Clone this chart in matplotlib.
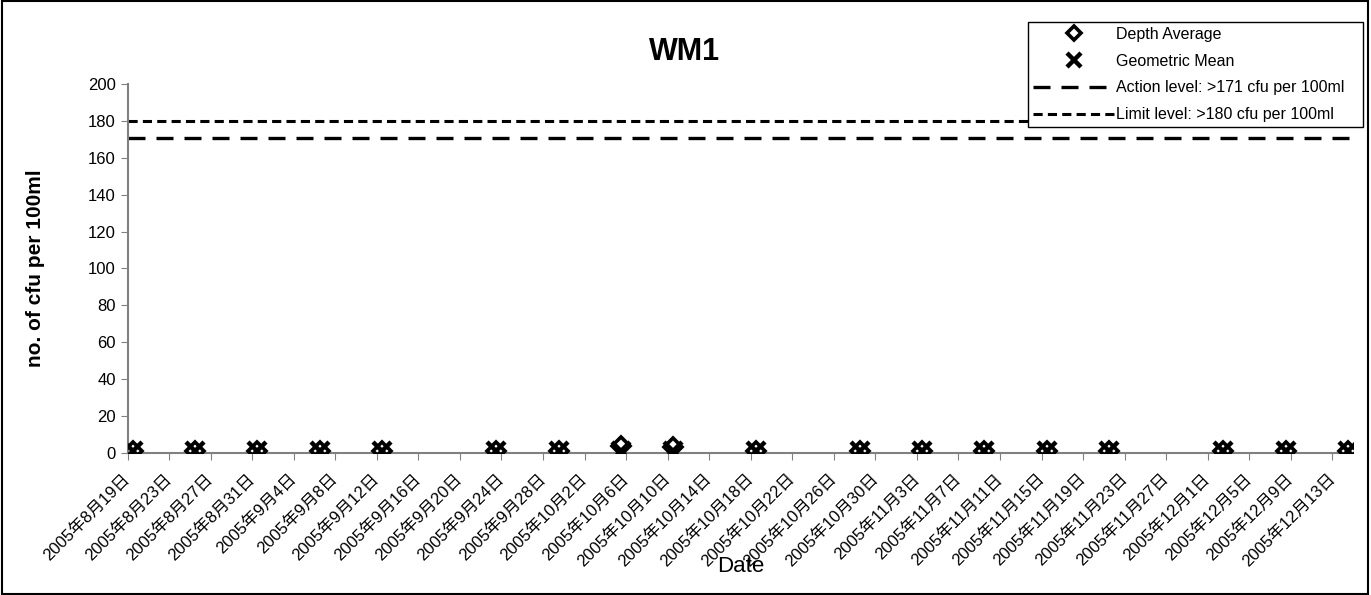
import datetime as dt
import matplotlib
matplotlib.use("Agg")
import matplotlib.pyplot as plt
from matplotlib.patches import Rectangle

plt.rcParams['font.family'] = ['Liberation Sans', 'Noto Sans CJK JP', 'DejaVu Sans']

# sampling dates (2005) and values
dates = ['08-19', '08-25', '08-31', '09-06', '09-12', '09-23', '09-29', '10-05', '10-10',
         '10-18', '10-28', '11-03', '11-09', '11-15', '11-21', '12-02', '12-08', '12-14']
depth_avg = [1, 1, 1, 1, 1, 1, 1, 4, 3, 1, 1, 1, 1, 1, 1, 1, 1, 1]
geo_mean = [1, 1, 1, 1, 1, 1, 1, 1, 1, 1, 1, 1, 1, 1, 1, 1, 1, 1]
action_level = 171
limit_level = 180
title = 'WM1'

# Excel "between dates" placement: points sit at mid-day
x = [dt.datetime.strptime('2005-' + d, '%Y-%m-%d') + dt.timedelta(hours=12) for d in dates]
start = dt.datetime(2005, 8, 19)
end = dt.datetime(2005, 12, 15)
ticks = [start + dt.timedelta(days=4 * i) for i in range(30)]
tick_labels = ['%d年%d月%d日' % (t.year, t.month, t.day) for t in ticks]

fig = plt.figure(figsize=(13.71, 5.95), dpi=100)
ax = fig.add_axes([0.093, 0.2387, 0.894, 0.6201])

ax.plot(x, geo_mean, linestyle='none', marker='x', markersize=13, markeredgewidth=3.2,
        color='black', label='Geometric Mean', zorder=3)
ax.plot(x, depth_avg, linestyle='none', marker='D', markersize=9, markerfacecolor='none',
        markeredgecolor='black', markeredgewidth=2.6, label='Depth Average', zorder=4)
ax.axhline(action_level, color='black', linewidth=2.4, dashes=(5.1, 3.3),
           label='Action level: >171 cfu per 100ml')
ax.axhline(limit_level, color='black', linewidth=2.2, dashes=(3.0, 1.7),
           label='Limit level: >180 cfu per 100ml')

ax.set_xlim(start, end)
ax.set_ylim(0, 200)
ax.set_yticks(range(0, 201, 20))
ax.set_xticks(ticks)
ax.set_xticklabels(tick_labels, rotation=45, ha='right', va='center', rotation_mode='anchor')
ax.tick_params(axis='x', length=5, color='#808080', pad=12, labelsize=12)
ax.tick_params(axis='y', length=5, color='#808080', labelsize=12)

for s in ['top', 'right']:
    ax.spines[s].set_visible(False)
for s in ['left', 'bottom']:
    ax.spines[s].set_color('#808080')
    ax.spines[s].set_linewidth(1.5)
ax.spines['bottom'].set_zorder(1)

# legend box drawn separately so its size matches the original
W, H = 1371.0, 595.0
box = Rectangle((1028 / W, 1 - 127 / H), (1363 - 1028) / W, (127 - 22) / H,
                transform=fig.transFigure, facecolor='white', edgecolor='black',
                linewidth=1.0, zorder=4)
fig.patches.append(box)

handles, labels = ax.get_legend_handles_labels()
order = [1, 0, 2, 3]
leg = fig.legend([handles[i] for i in order], [labels[i] for i in order],
                 loc='upper left', bbox_to_anchor=(1028 / W, 1 - 22 / H), borderaxespad=0,
                 fontsize=11.5, frameon=False, handlelength=5.2, handletextpad=0.0,
                 labelspacing=0.74, borderpad=0.3, markerscale=0.8)
leg.set_zorder(5)

fig.text(0.499, 0.9118, title, ha='center', va='center', fontsize=22, fontweight='bold')
fig.text(36 / W, 1 - 268 / H, 'no. of cfu per 100ml', rotation=90, ha='center',
         va='center', fontsize=15, fontweight='bold')
fig.text(741 / W, 1 - 567 / H, 'Date', ha='center', va='center', fontsize=16)

fig.patches.append(Rectangle((0.0015, 0.002), 0.996, 0.996, transform=fig.transFigure,
                             fill=False, edgecolor='black', linewidth=1.5))

fig.savefig('out.png', dpi=100)
